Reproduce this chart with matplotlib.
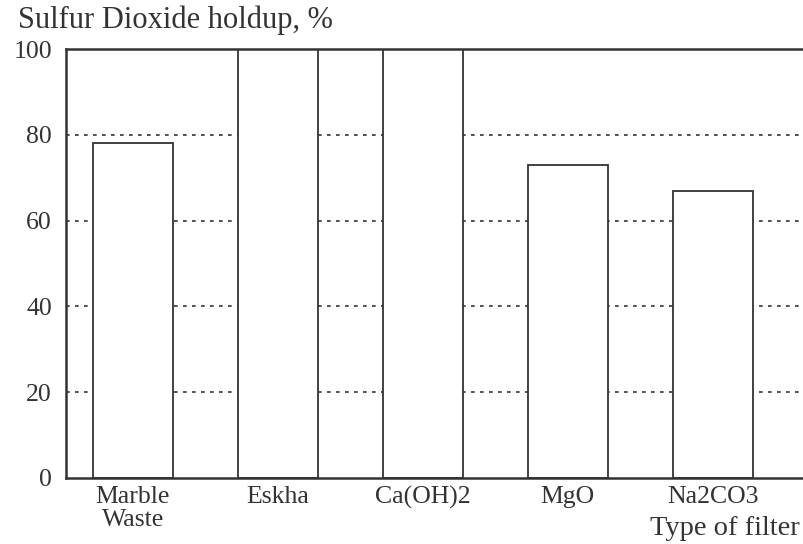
#!/usr/bin/env python3
"""Sulfur dioxide holdup by filter type - bar chart."""

import matplotlib
matplotlib.use("Agg")
import matplotlib.pyplot as plt
import numpy as np

categories = ["Marble\nWaste", "Eskha", "Ca(OH)2", "MgO", "Na2CO3"]
holdup = [78, 100, 100, 73, 67]
y_ticks = [0, 20, 40, 60, 80, 100]


def main():
    plt.rcParams["font.family"] = ["Liberation Serif", "DejaVu Serif"]

    fig = plt.figure(figsize=(8.04, 5.44), dpi=100)
    ax = fig.add_axes([66 / 804, 66 / 544, 1 - 66 / 804, (478 - 49) / 544])

    x = np.arange(len(categories))

    # dotted grid sits behind the white bars
    for v in y_ticks[1:-1]:
        ax.axhline(v, color="#333333", linestyle=(0, (2.2, 3.2)), linewidth=1.2, zorder=1)

    ax.bar(x, holdup, width=0.55, color="white", edgecolor="#333333",
           linewidth=1.3, zorder=2)

    ax.set_xlim(-0.46, 4.63)
    ax.set_ylim(0, 100)
    ax.set_yticks(y_ticks)
    ax.set_yticklabels([str(v) for v in y_ticks], fontsize=18.5)
    ax.set_xticks(x)
    ax.set_xticklabels(categories, fontsize=18.5, linespacing=1.05)

    ax.tick_params(axis="x", direction="in", length=6, width=1.2, pad=6, colors="#333333",
                   labelcolor="#333333")
    ax.tick_params(axis="y", direction="in", length=0, pad=10, labelcolor="#333333")

    for s in ["left", "bottom", "top"]:
        ax.spines[s].set_linewidth(1.8)
        ax.spines[s].set_color("#333333")
    ax.spines["right"].set_visible(False)

    fig.text(18 / 804, (544 - 28) / 544, "Sulfur Dioxide holdup, %", fontsize=22,
             ha="left", va="baseline", color="#333333")
    fig.text(800 / 804, (544 - 535) / 544, "Type of filter", fontsize=20.5,
             ha="right", va="baseline", color="#333333")

    fig.savefig("out.png", dpi=100)
    plt.close(fig)


if __name__ == "__main__":
    main()
